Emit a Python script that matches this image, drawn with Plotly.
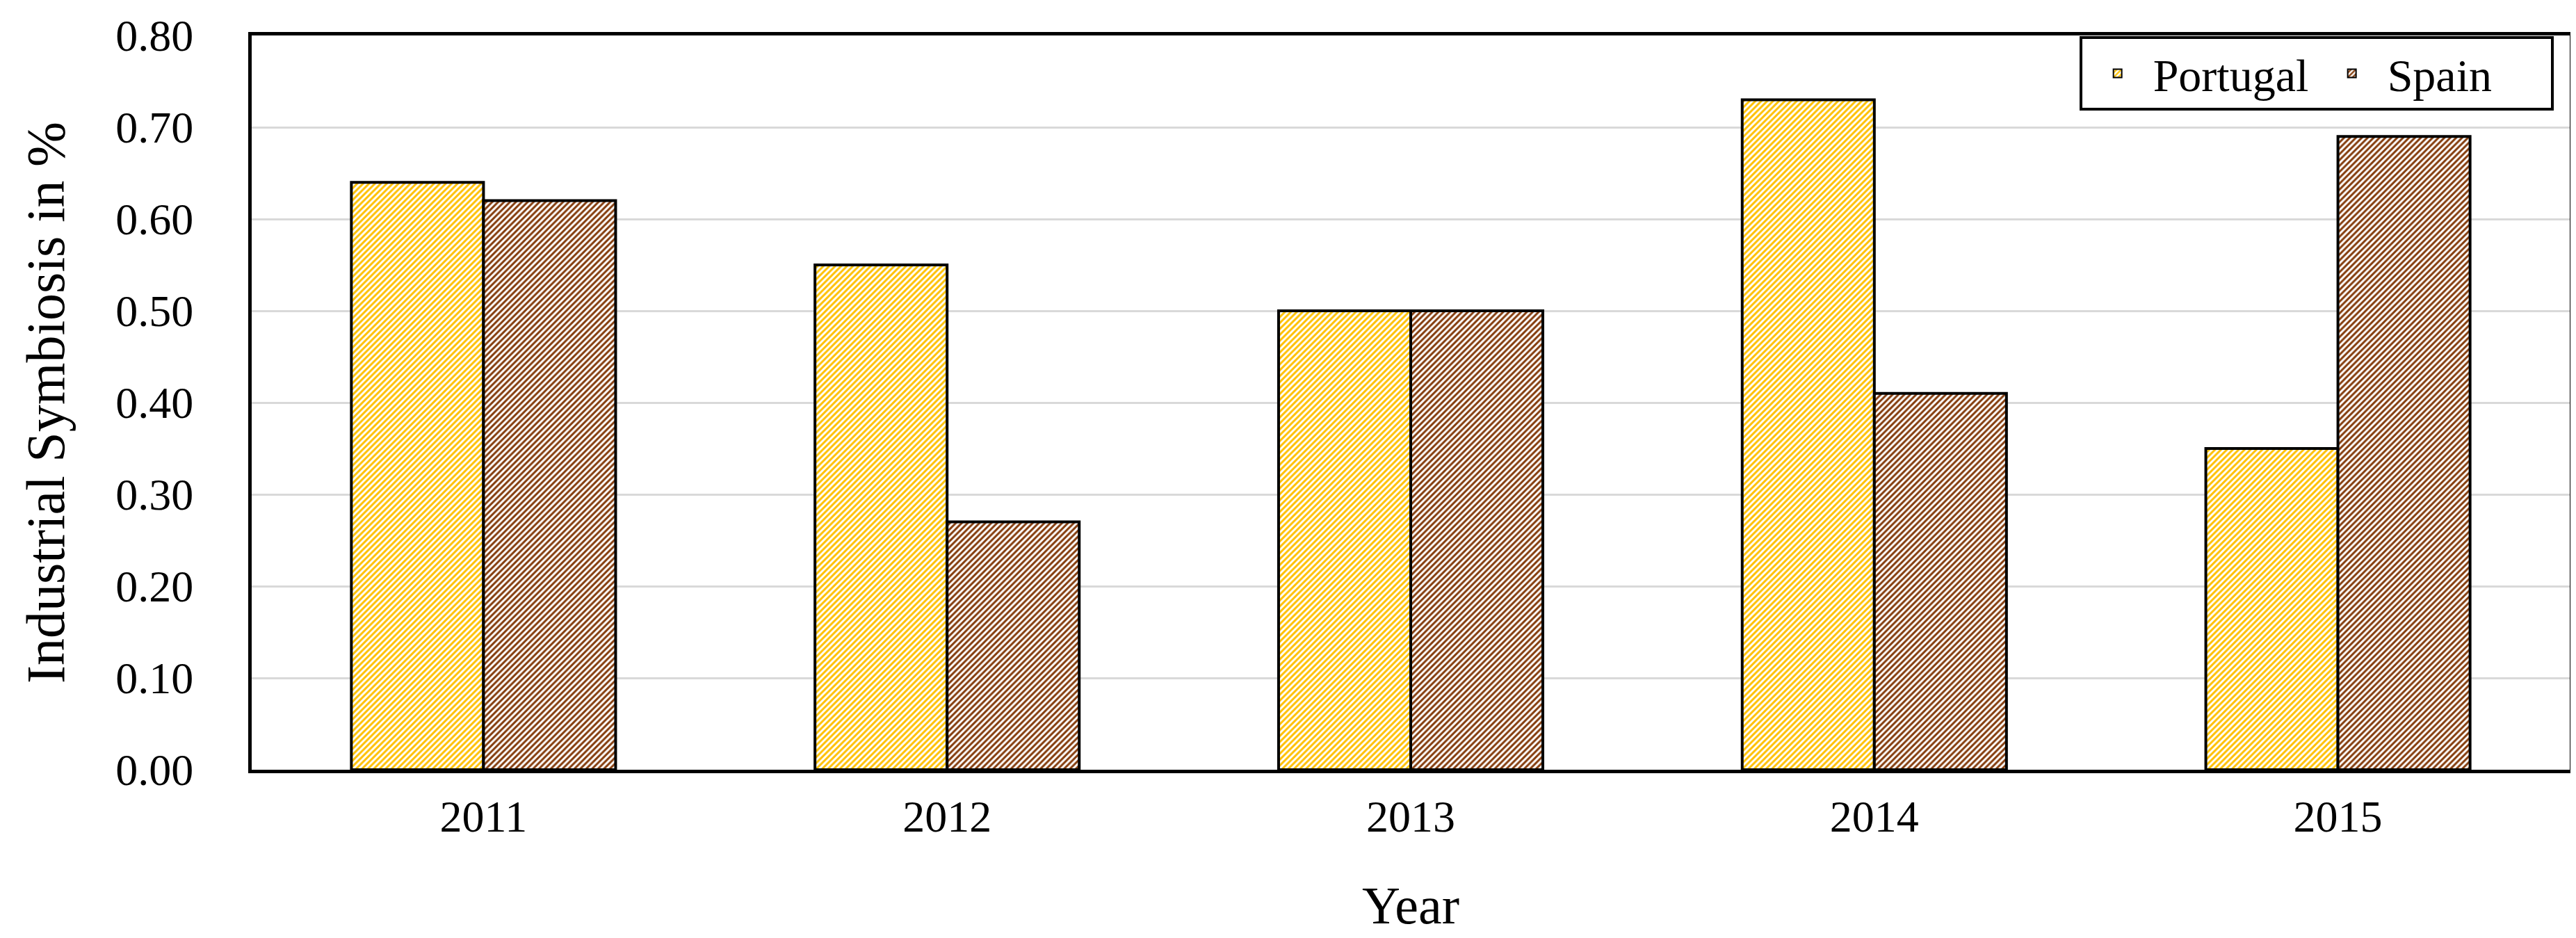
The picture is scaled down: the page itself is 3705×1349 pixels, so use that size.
import plotly.graph_objects as go

years = ["2011", "2012", "2013", "2014", "2015"]
portugal = [0.64, 0.55, 0.50, 0.73, 0.35]
spain = [0.62, 0.27, 0.50, 0.41, 0.69]
y_ticks = [0.0, 0.1, 0.2, 0.3, 0.4, 0.5, 0.6, 0.7, 0.8]

FONT = "Liberation Serif"

fig = go.Figure()
fig.add_trace(go.Bar(
    x=years, y=portugal, name="Portugal",
    marker=dict(color="white",
                line=dict(color="black", width=4),
                pattern=dict(shape="/", fgcolor="#FFC000", bgcolor="white",
                             fillmode="replace", size=6, solidity=0.5)),
))
fig.add_trace(go.Bar(
    x=years, y=spain, name="Spain",
    marker=dict(color="white",
                line=dict(color="black", width=4),
                pattern=dict(shape="/", fgcolor="#843C0C", bgcolor="white",
                             fillmode="replace", size=6, solidity=0.5)),
))

fig.update_layout(
    width=3705, height=1349,
    margin=dict(l=354, r=17, t=43, b=250, autoexpand=False),
    paper_bgcolor="white", plot_bgcolor="white",
    barmode="group", bargap=0.43, bargroupgap=0,
    font=dict(family=FONT, color="black", size=64),
    legend=dict(
        orientation="h", x=0.993, y=0.999, xanchor="right", yanchor="top",
        bordercolor="black", borderwidth=4, bgcolor="white",
        font=dict(family=FONT, size=66, color="black"),
        itemsizing="constant", itemwidth=92,
        entrywidth=230, entrywidthmode="pixels",
    ),
    showlegend=True,
)

fig.update_xaxes(
    showline=True, linecolor="black", linewidth=5, mirror=True,
    ticks="", tickfont=dict(family=FONT, size=64, color="black"),
    ticklabelstandoff=7,
    title=dict(text="Year", font=dict(family=FONT, size=76, color="black"), standoff=68),
    automargin=False,
)
fig.update_yaxes(
    range=[0, 0.8], tickvals=y_ticks, tickformat=".2f",
    showgrid=True, gridcolor="#D9D9D9", gridwidth=3,
    showline=True, linecolor="black", linewidth=5, mirror=True,
    zeroline=False,
    ticks="", tickfont=dict(family=FONT, size=64, color="black"),
    ticklabelstandoff=66,
    title=dict(text="Industrial Symbiosis in %", font=dict(family=FONT, size=78, color="black"), standoff=49),
    automargin=False,
)

fig.write_html("out.html")
